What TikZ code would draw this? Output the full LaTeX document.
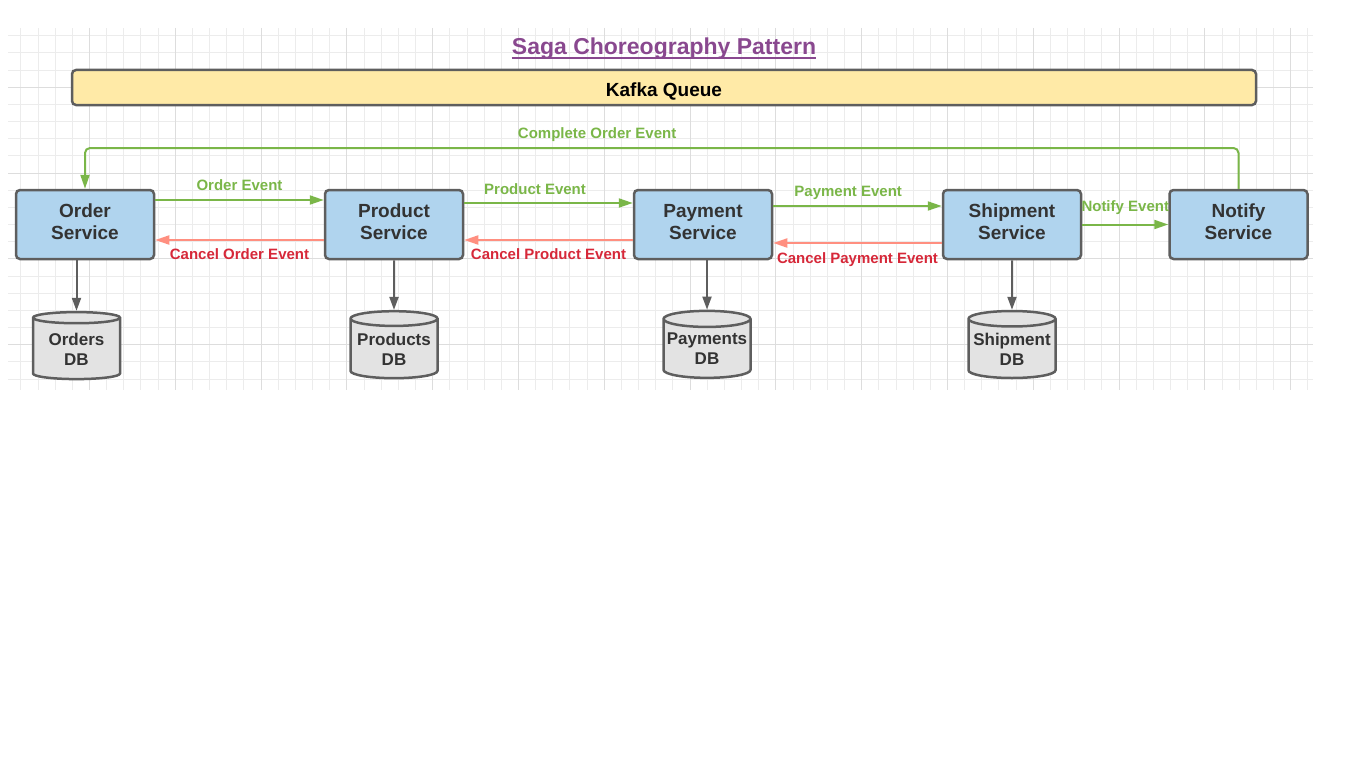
\documentclass[tikz,border=0pt]{standalone}
\usepackage{fontspec}
\setmainfont{Liberation Sans}
\usetikzlibrary{arrows.meta,shapes.geometric}
\definecolor{evgreen}{RGB}{122,182,72}
\definecolor{cxred}{RGB}{214,40,57}
\definecolor{cxline}{RGB}{255,143,128}
\definecolor{svcblue}{RGB}{176,212,238}
\definecolor{kafkay}{RGB}{255,234,167}
\definecolor{edge}{RGB}{94,94,94}
\definecolor{dbfill}{RGB}{227,227,227}
\definecolor{ink}{RGB}{51,51,51}
\definecolor{titlep}{RGB}{137,72,143}
\definecolor{gridmin}{RGB}{236,236,236}
\definecolor{gridmaj}{RGB}{221,221,221}
\newcommand{\lowpad}{\rule[-6pt]{0pt}{0pt}}
\begin{document}
\begin{tikzpicture}[x=1pt,y=-1pt,
  svc/.style={draw=edge,line width=2.5pt,fill=svcblue,rounded corners=4pt,minimum width=138pt,minimum height=69pt,align=center,text=ink,font=\fontsize{19}{22}\selectfont\bfseries,inner sep=0pt},
  db/.style={cylinder,shape border rotate=90,aspect=0.2,draw=edge,line width=2.5pt,fill=dbfill,minimum width=87pt,minimum height=67pt,align=center,text=ink,font=\fontsize{17}{20}\selectfont\bfseries,inner sep=0pt},
  ev/.style={draw=evgreen,line width=2pt,-{Triangle[length=14pt,width=9pt]}},
  cx/.style={draw=cxline,line width=2pt,-{Triangle[length=14pt,width=9pt]}},
  todb/.style={draw=edge,line width=2pt,-{Triangle[length=13pt,width=9pt]}},
  evlbl/.style={text=evgreen,font=\fontsize{15}{17}\selectfont\bfseries,inner sep=0pt},
  cxlbl/.style={text=cxred,font=\fontsize{15}{17}\selectfont\bfseries,inner sep=0pt}]
  \useasboundingbox (0,0) rectangle (1366,768);

  % grid
  \begin{scope}
    \clip (8,28) rectangle (1313,390);
    \foreach \i in {-5,...,71} \draw[gridmin,line width=1pt] ({89.5+17.16*\i},28) -- ++(0,362);
    \foreach \i in {-4,...,18} \draw[gridmin,line width=1pt] (8,{87.3+17.16*\i}) -- ++(1305,0);
    \foreach \i in {-1,...,14} \draw[gridmaj,line width=1pt] ({89.5+85.8*\i},28) -- ++(0,362);
    \foreach \i in {-1,...,3} \draw[gridmaj,line width=1pt] (8,{87.3+85.8*\i}) -- ++(1305,0);
  \end{scope}

  \node[text=titlep,font=\fontsize{23}{26}\selectfont\bfseries,inner sep=0pt] (title) at (664,49) {Saga Choreography Pattern};
  \draw[titlep,line width=1.6pt] ([yshift=-3.4pt]title.base west) -- ([yshift=-3.4pt]title.base east);

  \node[draw=edge,line width=2.5pt,fill=kafkay,rounded corners=4pt,minimum width=1184pt,minimum height=35pt,text height=17pt,text depth=0pt,font=\fontsize{19}{22}\selectfont\bfseries] (kafka) at (664,87.5) {Kafka Queue};

  % services
  \node[svc] (order) at (85,224.5) {Order\\Service\lowpad};
  \node[svc] (product) at (394,224.5) {Product\\Service\lowpad};
  \node[svc] (payment) at (703,224.5) {Payment\\Service\lowpad};
  \node[svc] (shipment) at (1012,224.5) {Shipment\\Service\lowpad};
  \node[svc] (notify) at (1238.5,224.5) {Notify\\Service\lowpad};

  % databases
  \node[db] (ordersdb) at (76.5,349) {Orders\\DB};
  \node[db] (productsdb) at (394,349) {Products\\DB};
  \node[db] (paymentsdb) at (707,349) {Payments\\DB};
  \node[db] (shipmentdb) at (1012,349) {Shipment\\DB};

  \draw[todb] (order.south -| ordersdb.north) -- (ordersdb.north);
  \draw[todb] (product.south) -- (productsdb.north);
  \draw[todb] (payment.south -| paymentsdb.north) -- (paymentsdb.north);
  \draw[todb] (shipment.south) -- (shipmentdb.north);

  % events
  \draw[ev] ([yshift=24.5pt]order.east) -- ([yshift=24.5pt]product.west) node[evlbl,midway,yshift=15pt] {Order Event};
  \draw[ev] ([yshift=21.5pt]product.east) -- ([yshift=21.5pt]payment.west) node[evlbl,pos=0.42,yshift=14pt] {Product Event};
  \draw[ev] ([yshift=18.5pt]payment.east) -- ([yshift=18.5pt]shipment.west) node[evlbl,pos=0.445,yshift=13pt] {Payment Event};
  \draw[ev] (shipment.east) -- (notify.west) node[evlbl,midway,yshift=17pt] {Notify Event};
  \draw[ev,rounded corners=5pt] (notify.north) -- (notify.north |- 0,148) -| (order.north) node[evlbl,pos=0.278,yshift=13pt] {Complete Order Event};

  % compensations
  \draw[cx] ([yshift=-15.5pt]product.west) -- ([yshift=-15.5pt]order.east) node[cxlbl,midway,yshift=-14pt] {Cancel Order Event};
  \draw[cx] ([yshift=-15.5pt]payment.west) -- ([yshift=-15.5pt]product.east) node[cxlbl,midway,yshift=-14pt] {Cancel Product Event};
  \draw[cx] ([yshift=-18.5pt]shipment.west) -- ([yshift=-18.5pt]payment.east) node[cxlbl,midway,yshift=-17pt] {Cancel Payment Event};
\end{tikzpicture}
\end{document}
